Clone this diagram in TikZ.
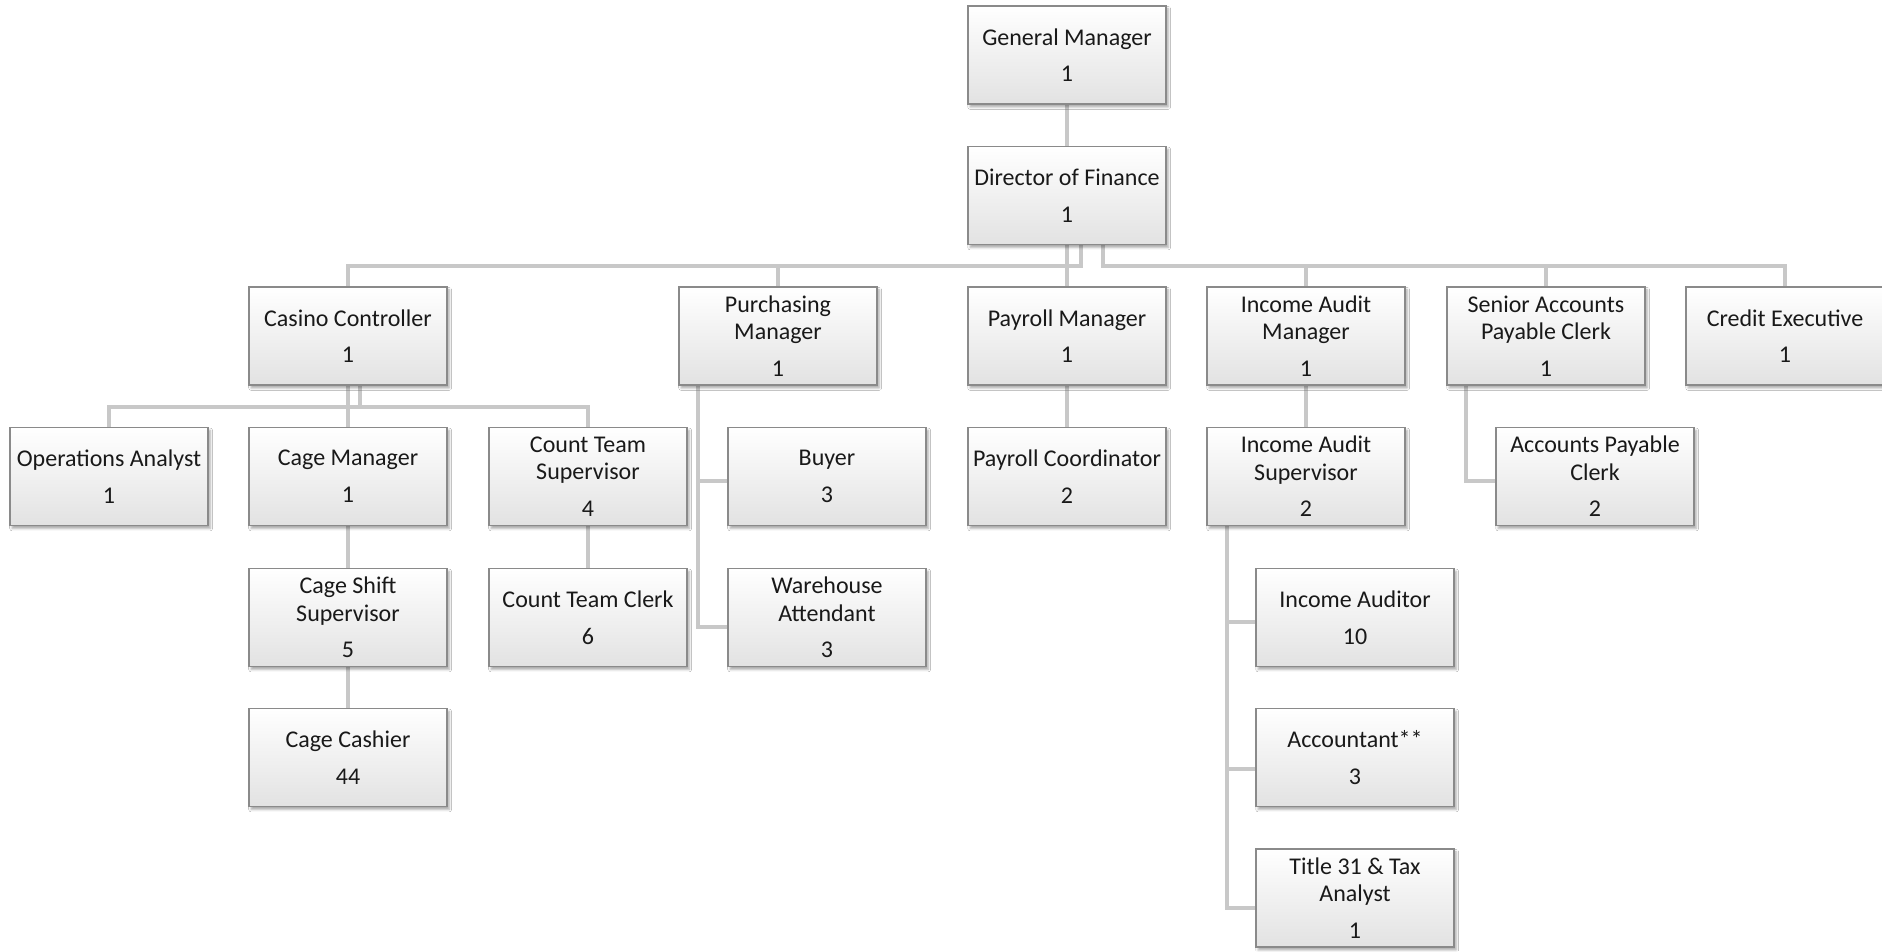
\documentclass[tikz,border=0pt]{standalone}
\usepackage{fontspec}
\setmainfont{Carlito}
\usetikzlibrary{shadows.blur,backgrounds}
\definecolor{boxline}{HTML}{8A8A8A}
\definecolor{conncol}{HTML}{C8C8C8}
\definecolor{boxbot}{HTML}{E2E2E2}
\tikzset{
  orgbox/.style={draw=boxline, line width=0.9pt, top color=white, bottom color=boxbot,
    minimum width=148.5pt, minimum height=73.5pt, inner sep=0pt, align=center,
    font=\fontsize{18pt}{20.5pt}\selectfont, text=black!90,
    blur shadow={shadow xshift=1.6pt, shadow yshift=-2.2pt, shadow opacity=35, shadow blur radius=1.8pt}},
  conn/.style={draw=conncol, line width=3pt}
}
\newcommand{\gapnum}{\\[7pt]}
\begin{document}
\begin{tikzpicture}[x=0.75pt,y=-0.75pt]
\useasboundingbox (0,0) rectangle (1882,951);
% level 0-1
\node[orgbox] (gm)   at (1067,55)    {General Manager\gapnum 1};
\node[orgbox] (dof)  at (1067,195.5) {Director of Finance\gapnum 1};
% level 2
\node[orgbox] (cc)   at (348,336)  {Casino Controller\gapnum 1};
\node[orgbox] (pm)   at (778,336)  {Purchasing\\Manager\gapnum 1};
\node[orgbox] (pay)  at (1067,336) {Payroll Manager\gapnum 1};
\node[orgbox] (iam)  at (1306,336) {Income Audit\\Manager\gapnum 1};
\node[orgbox] (sapc) at (1546,336) {Senior Accounts\\Payable Clerk\gapnum 1};
\node[orgbox] (ce)   at (1785,336) {Credit Executive\gapnum 1};
% level 3
\node[orgbox] (oa)   at (109,476.5)  {Operations Analyst\gapnum 1};
\node[orgbox] (cm)   at (348,476.5)  {Cage Manager\gapnum 1};
\node[orgbox] (cts)  at (588,476.5)  {Count Team\\Supervisor\gapnum 4};
\node[orgbox] (buy)  at (827,476.5)  {Buyer\gapnum 3};
\node[orgbox] (pc)   at (1067,476.5) {Payroll Coordinator\gapnum 2};
\node[orgbox] (ias)  at (1306,476.5) {Income Audit\\Supervisor\gapnum 2};
\node[orgbox] (apc)  at (1595,476.5) {Accounts Payable\\Clerk\gapnum 2};
% level 4
\node[orgbox] (css)  at (348,617.5)  {Cage Shift\\Supervisor\gapnum 5};
\node[orgbox] (ctc)  at (588,617.5)  {Count Team Clerk\gapnum 6};
\node[orgbox] (wa)   at (827,617.5)  {Warehouse\\Attendant\gapnum 3};
\node[orgbox] (ia)   at (1355,617.5) {Income Auditor\gapnum 10};
% level 5-6
\node[orgbox] (cash) at (348,757.5)  {Cage Cashier\gapnum 44};
\node[orgbox] (acct) at (1355,757.5) {Accountant**\gapnum 3};
\node[orgbox] (t31)  at (1355,898)   {Title 31 \& Tax\\Analyst\gapnum 1};
% bus coordinates
\coordinate (busA) at (0,266);
\coordinate (busB) at (0,407);
\begin{scope}[on background layer]
  \fill[white] (0,0) rectangle (1882,951);
  \draw[conn] (gm.south) -- (dof.north);
  \draw[conn] (dof.south) -- (pay.north);
  \draw[conn] ([xshift=10.5pt]dof.south) |- (cc.north |- busA) -- (cc.north);
  \draw[conn] ([xshift=10.5pt]dof.south) |- (pm.north |- busA) -- (pm.north);
  \draw[conn] ([xshift=27pt]dof.south) |- (iam.north |- busA) -- (iam.north);
  \draw[conn] ([xshift=27pt]dof.south) |- (sapc.north |- busA) -- (sapc.north);
  \draw[conn] ([xshift=27pt]dof.south) |- (ce.north |- busA) -- (ce.north);
  % casino controller
  \draw[conn] (cc.south) -- (cm.north);
  \draw[conn] ([xshift=9pt]cc.south) |- (oa.north |- busB) -- (oa.north);
  \draw[conn] ([xshift=9pt]cc.south) |- (cts.north |- busB) -- (cts.north);
  \draw[conn] (cm.south) -- (css.north);
  \draw[conn] (css.south) -- (cash.north);
  \draw[conn] (cts.south) -- (ctc.north);
  % purchasing
  \draw[conn] ([xshift=15pt]pm.south west) |- ([yshift=-3pt]buy.west);
  \draw[conn] ([xshift=15pt]pm.south west) |- ([yshift=-7pt]wa.west);
  % payroll
  \draw[conn] (pay.south) -- (pc.north);
  % income audit
  \draw[conn] (iam.south) -- (ias.north);
  \draw[conn] ([xshift=15.75pt]ias.south west) |- ([yshift=-3pt]ia.west);
  \draw[conn] ([xshift=15.75pt]ias.south west) |- ([yshift=-8.5pt]acct.west);
  \draw[conn] ([xshift=15.75pt]ias.south west) |- ([yshift=-7.5pt]t31.west);
  % senior accounts payable
  \draw[conn] ([xshift=15pt]sapc.south west) |- ([yshift=-3pt]apc.west);
\end{scope}
\end{tikzpicture}
\end{document}
